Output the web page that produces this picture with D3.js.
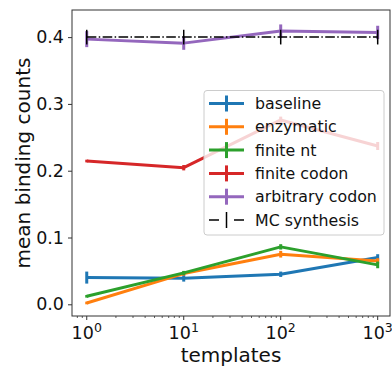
<!DOCTYPE html>
<html><head><meta charset="utf-8">
<script src="https://cdn.jsdelivr.net/npm/d3@7"></script>
<style>body{margin:0;background:#fff}svg{display:block;font-family:"DejaVu Sans",sans-serif}</style>
</head><body><svg id="c" width="392" height="370"></svg>
<script>
const templates = [1, 10, 100, 1000];
const seriesNames = ["baseline", "enzymatic", "finite nt", "finite codon", "arbitrary codon", "MC synthesis"];
const seriesColors = ["#1f77b4", "#ff7f0e", "#2ca02c", "#d62728", "#9467bd", "#000000"];
const baseline = [0.040, 0.039, 0.045, 0.070];
const enzymatic = [0.002, 0.046, 0.075, 0.065];
const finiteNt = [0.012, 0.047, 0.086, 0.059];
const finiteCodon = [0.2145, 0.2045, 0.276, 0.237];
const arbitraryCodon = [0.397, 0.391, 0.409, 0.407];
const mcSynthesis = [0.400, 0.400, 0.400, 0.400];
const baselineErr = [0.009, 0.005, 0.004, 0.005];
const enzymaticErr = [0.002, 0.003, 0.005, 0.004];
const finiteNtErr = [0.002, 0.003, 0.004, 0.005];
const finiteCodonErr = [0.002, 0.004, 0.005, 0.006];
const arbitraryCodonErr = [0.012, 0.010, 0.010, 0.010];
const mcSynthesisErr = [0.011, 0.011, 0.011, 0.011];
const yTicks = [0.0, 0.1, 0.2, 0.3, 0.4];
const xTicks = [1, 10, 100, 1000];

const values = [baseline, enzymatic, finiteNt, finiteCodon, arbitraryCodon, mcSynthesis];
const errs = [baselineErr, enzymaticErr, finiteNtErr, finiteCodonErr, arbitraryCodonErr, mcSynthesisErr];

const L = 72, R = 390, T = 10, B = 316;
const svg = d3.select("#c");
const x = d3.scaleLog().domain([Math.pow(10, -0.152), Math.pow(10, 3.127)]).range([L, R]);
const y = d3.scaleLinear().domain([-0.0175, 0.4406]).range([B, T]);

// series
const line = d3.line().x(d => x(d[0])).y(d => y(d[1]));
values.forEach((vals, i) => {
  const isMC = i === 5;
  const g = svg.append("g");
  const pts = templates.map((t, j) => [t, vals[j]]);
  g.append("path").datum(pts).attr("d", line).attr("fill", "none")
    .attr("stroke", seriesColors[i]).attr("stroke-width", isMC ? 1.5 : 3)
    .attr("stroke-dasharray", isMC ? "9.6,2.4,1.5,2.4" : null)
    .attr("stroke-linejoin", "round");
  g.selectAll("line.err").data(templates).enter().append("line")
    .attr("x1", d => x(d)).attr("x2", d => x(d))
    .attr("y1", (d, j) => y(vals[j] - errs[i][j])).attr("y2", (d, j) => y(vals[j] + errs[i][j]))
    .attr("stroke", seriesColors[i]).attr("stroke-width", isMC ? 1.5 : 3);
});

// spines
svg.append("rect").attr("x", L).attr("y", T).attr("width", R - L).attr("height", B - T)
  .attr("fill", "none").attr("stroke", "#333").attr("stroke-width", 1);

// y axis
const ya = svg.append("g").attr("transform", `translate(${L},0)`)
  .call(d3.axisLeft(y).tickValues(yTicks).tickFormat(d3.format(".1f")).tickSize(4).tickPadding(4));
ya.select(".domain").remove();
ya.selectAll("line").attr("stroke", "#333");
ya.selectAll("text").attr("font-size", 17.5).attr("fill", "#111").attr("font-family", "DejaVu Sans");

// x axis
const xa = svg.append("g").attr("transform", `translate(0,${B})`);
const minor = [];
[0.1, 1, 10, 100, 1000].forEach(dec => { for (let k = 2; k <= 9; k++) { const v = dec * k; if (v > x.domain()[0] && v < x.domain()[1]) minor.push(v); } });
xa.selectAll("line.minor").data(minor).enter().append("line")
  .attr("x1", d => x(d)).attr("x2", d => x(d)).attr("y1", 0).attr("y2", 2).attr("stroke", "#333").attr("stroke-width", 0.8);
xa.selectAll("line.major").data(xTicks).enter().append("line")
  .attr("x1", d => x(d)).attr("x2", d => x(d)).attr("y1", 0).attr("y2", 4).attr("stroke", "#333");
const xt = xa.selectAll("text.tk").data(xTicks).enter().append("text")
  .attr("x", d => x(d)).attr("y", 23).attr("text-anchor", "middle").attr("fill", "#111")
  .attr("font-size", 17.5);
xt.append("tspan").text("10");
xt.append("tspan").attr("dy", -7).attr("font-size", 12.5).text(d => Math.round(Math.log10(d)));

// labels
svg.append("text").attr("x", (L + R) / 2 - 0).attr("y", 362).attr("text-anchor", "middle")
  .attr("font-size", 20).attr("fill", "#111").text("templates");
svg.append("text").attr("transform", `translate(30,${(T + B) / 2}) rotate(-90)`).attr("text-anchor", "middle")
  .attr("font-size", 20).attr("fill", "#111").text("mean binding counts");

// legend
const lg = svg.append("g");
lg.append("rect").attr("x", 204).attr("y", 90.5).attr("width", 180).attr("height", 144.5).attr("rx", 3)
  .attr("fill", "#fff").attr("fill-opacity", 0.8).attr("stroke", "#ccc").attr("stroke-width", 1);
seriesNames.forEach((name, i) => {
  const cy = 103.5 + i * 23.3;
  const isMC = i === 5;
  if (isMC) {
    lg.append("line").attr("x1", 209).attr("x2", 219).attr("y1", cy).attr("y2", cy).attr("stroke", "#000").attr("stroke-width", 1.5);
    lg.append("line").attr("x1", 234).attr("x2", 244).attr("y1", cy).attr("y2", cy).attr("stroke", "#000").attr("stroke-width", 1.5);
    lg.append("line").attr("x1", 226.5).attr("x2", 226.5).attr("y1", cy - 8).attr("y2", cy + 8).attr("stroke", "#000").attr("stroke-width", 1.5);
  } else {
    lg.append("line").attr("x1", 209).attr("x2", 244).attr("y1", cy).attr("y2", cy).attr("stroke", seriesColors[i]).attr("stroke-width", 3);
    lg.append("line").attr("x1", 226.5).attr("x2", 226.5).attr("y1", cy - 8).attr("y2", cy + 8).attr("stroke", seriesColors[i]).attr("stroke-width", 3);
  }
  lg.append("text").attr("x", 255).attr("y", cy + 5.5).attr("font-size", 15.8).attr("fill", "#111").text(name);
});
</script></body></html>
